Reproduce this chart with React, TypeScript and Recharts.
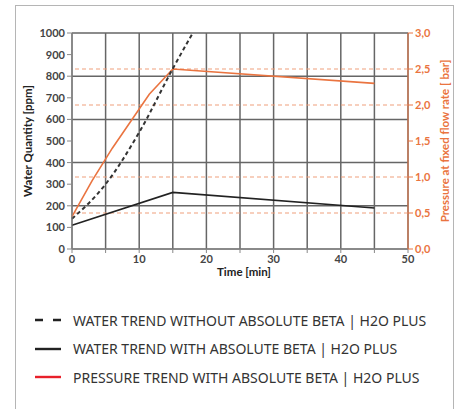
import React from "react";
import {
  CartesianGrid,
  Label,
  Line,
  LineChart,
  ReferenceLine,
  XAxis,
  YAxis,
} from "recharts";

// time [min] / value pairs
const withoutBetaTime = [0, 5, 10, 15, 20];
const withoutBetaPpm = [140, 300, 540, 835, 1110];

const withBetaTime = [0, 15, 45];
const withBetaPpm = [110, 262, 190];

const pressureTime = [0, 3, 6, 11.5, 15, 45];
const pressureBar = [0.45, 0.95, 1.4, 2.15, 2.5, 2.3];

const timeTicks = [0, 5, 10, 15, 20, 25, 30, 35, 40, 45, 50];
const ppmTicks = [0, 100, 200, 300, 400, 500, 600, 700, 800, 900, 1000];
const barTicks = [0, 0.5, 1, 1.5, 2, 2.5, 3];
const barGuides = [0.5, 1, 2, 2.5];

const legendItems = [
  { label: "WATER TREND WITHOUT ABSOLUTE BETA | H2O PLUS", color: "#222", dash: "8 10" },
  { label: "WATER TREND WITH ABSOLUTE BETA | H2O PLUS", color: "#222", dash: undefined },
  { label: "PRESSURE TREND WITH ABSOLUTE BETA | H2O PLUS", color: "#e8202a", dash: undefined },
];

const zip = (xs: number[], ys: number[]) => xs.map((t, i) => ({ t, v: ys[i] }));

const orange = "#ea7440";
const gridColor = "#666";
const tickFont = { fontFamily: "Lato", fontWeight: 700, fontSize: 11 };

function RotatedLabel({ viewBox, text, x, color }: any) {
  const cy = viewBox.y + viewBox.height / 2;
  return (
    <text
      x={x}
      y={cy}
      transform={`rotate(-90 ${x} ${cy})`}
      textAnchor="middle"
      dominantBaseline="central"
      fill={color}
      style={{ ...tickFont, fontSize: 11.5 }}
    >
      {text}
    </text>
  );
}

export default function App() {
  return (
    <div
      style={{
        position: "absolute",
        left: 0,
        top: 0,
        width: 461,
        height: 409,
        overflow: "hidden",
        background: "#fff",
      }}
    >
      <div
        style={{
          position: "absolute",
          left: 15,
          top: 5,
          width: 437,
          height: 430,
          border: "1px solid #b5b5b5",
        }}
      />
      <div style={{ position: "absolute", left: 0, top: 0 }}>
        <LineChart width={461} height={290} margin={{ top: 33, right: 0, bottom: 0, left: 0 }}>
          <CartesianGrid yAxisId="left" stroke={gridColor} strokeWidth={1.5} />
          <XAxis
            type="number"
            dataKey="t"
            domain={[0, 50]}
            ticks={timeTicks}
            tickFormatter={(v) => (v % 10 === 0 ? String(v) : "")}
            height={41}
            stroke="#888"
            tickSize={4}
            tick={{ ...tickFont, fill: "#444" }}
            allowDuplicatedCategory={false}
          >
            <Label
              content={({ viewBox }: any) => (
                <text
                  x={viewBox.x + viewBox.width / 2 + 4}
                  y={viewBox.y + 27}
                  textAnchor="middle"
                  fill="#222"
                  style={{ ...tickFont, fontSize: 11.5 }}
                >
                  Time [min]
                </text>
              )}
            />
          </XAxis>
          <YAxis
            yAxisId="left"
            type="number"
            domain={[0, 1000]}
            ticks={ppmTicks}
            allowDataOverflow
            width={72}
            stroke="#888"
            tickSize={5}
            tick={{ ...tickFont, fill: "#444" }}
          >
            <Label
              content={(p: any) => (
                <RotatedLabel viewBox={p.viewBox} x={27} text="Water Quantity [ppm]" color="#222" />
              )}
            />
          </YAxis>
          <YAxis
            yAxisId="right"
            orientation="right"
            type="number"
            domain={[0, 3]}
            ticks={barTicks}
            allowDataOverflow
            width={53}
            stroke={orange}
            tickSize={5}
            tickFormatter={(v) => v.toFixed(1).replace(".", ",")}
            tick={{ ...tickFont, fill: orange }}
          >
            <Label
              content={(p: any) => (
                <RotatedLabel
                  viewBox={p.viewBox}
                  x={444}
                  text="Pressure at fixed flow rate [ bar]"
                  color={orange}
                />
              )}
            />
          </YAxis>
          {barGuides.map((g) => (
            <ReferenceLine
              key={g}
              yAxisId="right"
              y={g}
              stroke="#f0a07c"
              strokeDasharray="4 3"
              strokeWidth={1.2}
            />
          ))}
          <Line
            yAxisId="left"
            data={zip(withBetaTime, withBetaPpm)}
            dataKey="v"
            type="linear"
            stroke="#222"
            strokeWidth={1.6}
            dot={false}
            isAnimationActive={false}
          />
          <Line
            yAxisId="right"
            data={zip(pressureTime, pressureBar)}
            dataKey="v"
            type="linear"
            stroke={orange}
            strokeWidth={1.6}
            dot={false}
            isAnimationActive={false}
          />
          <Line
            yAxisId="left"
            data={zip(withoutBetaTime, withoutBetaPpm)}
            dataKey="v"
            type="monotone"
            stroke="#333"
            strokeWidth={2}
            strokeDasharray="4 3"
            dot={false}
            isAnimationActive={false}
          />
        </LineChart>
      </div>
      <div style={{ position: "absolute", left: 35, top: 306 }}>
        {legendItems.map((item) => (
          <div
            key={item.label}
            style={{ display: "flex", alignItems: "center", height: 28.5 }}
          >
            <svg width={26} height={6} style={{ marginRight: 12 }}>
              <line
                x1={0}
                y1={3}
                x2={26}
                y2={3}
                stroke={item.color}
                strokeWidth={2.4}
                strokeDasharray={item.dash}
              />
            </svg>
            <span
              style={{
                fontFamily: "Noto Sans",
                fontSize: 14,
                color: "#333",
                whiteSpace: "nowrap",
              }}
            >
              {item.label}
            </span>
          </div>
        ))}
      </div>
    </div>
  );
}
